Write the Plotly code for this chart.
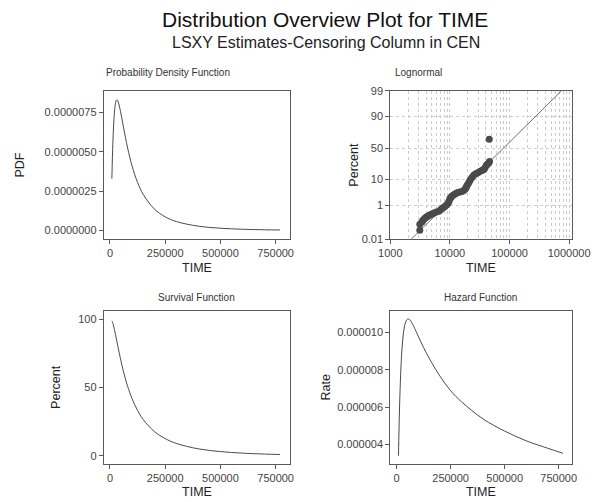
import plotly.graph_objects as go
from statistics import NormalDist

# ---------------- data ----------------
t_curve = [8500, 10000, 12000, 15000, 20000, 25000, 30000, 35000, 40000, 50000, 60000, 70000,
           80000, 100000, 125000, 150000, 200000, 250000, 300000, 400000, 500000,
           600000, 700000, 770000]
pdf_vals = [3.3e-6, 4.13e-6, 5.16e-6, 6.27e-6, 7.48e-6, 8.09e-6, 8.30e-6, 8.25e-6, 8.04e-6,
            7.40e-6, 6.65e-6, 5.92e-6, 5.24e-6, 4.10e-6, 3.05e-6, 2.31e-6, 1.38e-6, 0.874e-6,
            0.579e-6, 0.281e-6, 0.152e-6, 0.088e-6, 0.054e-6, 0.040e-6]
surv_vals = [98.7, 98.4, 97.5, 95.8, 92.4, 88.6, 84.65, 80.6, 76.7, 69.15, 62.3, 56.2,
             50.8, 41.8, 33.2, 26.7, 18.0, 12.7, 9.2, 5.24, 3.22, 2.09, 1.42, 1.10]
haz_vals = [3.4e-6, 4.2e-6, 5.28e-6, 6.55e-6, 8.1e-6, 9.13e-6, 9.8e-6, 10.23e-6, 10.49e-6,
            10.7e-6, 10.68e-6, 10.52e-6, 10.3e-6, 9.8e-6, 9.18e-6, 8.63e-6, 7.67e-6, 6.88e-6,
            6.29e-6, 5.37e-6, 4.72e-6, 4.2e-6, 3.8e-6, 3.53e-6]

# probability plot points (TIME, percent)
pp_time = [3130, 3130, 3400, 3530, 3700, 3890, 4050, 4240, 4500, 4800, 5100, 5420, 5900,
           6520, 6900, 7360, 7800, 8320, 8850, 9400, 9700, 10000, 10300, 10630, 11300,
           12020, 12800, 13590, 14700, 15930, 17000, 17990, 18500, 18910, 19600, 20360,
           21200, 22190, 23600, 25070, 27000, 29390, 31700, 34040, 35800, 37520, 39000,
           40900, 42600, 44560, 46250, 45710]
pp_pct = [0.04, 0.094, 0.13, 0.16, 0.19, 0.224, 0.25, 0.275, 0.31, 0.337, 0.37, 0.41, 0.45,
          0.50, 0.58, 0.68, 0.77, 0.88, 1.05, 1.25, 1.55, 1.93, 2.15, 2.41, 2.7,
          3.0, 3.25, 3.48, 3.65, 3.8, 4.2, 4.64, 5.2, 5.77, 6.6, 7.48,
          8.7, 10.0, 11.7, 13.4, 14.7, 15.8, 16.9, 17.9, 18.6, 19.3, 21.5,
          24.0, 25.5, 27.0, 29.2, 64.1]
fit_time = [2240, 740000]
fit_pct = [0.01, 99]

prob_ticks = [0.01, 1, 10, 50, 90, 99]
lin_xticks = [0, 250000, 500000, 750000]

nd = NormalDist()
def z(p):
    return nd.inv_cdf(p / 100.0)

FONT = "Liberation Sans"
LINE = "#4a4a4a"
AX = "#5a5a5a"
TICKC = "#444444"
GRID = "#cccccc"

fig = go.Figure()
fig.add_trace(go.Scatter(x=t_curve, y=pdf_vals, mode="lines", line=dict(color=LINE, width=1, shape="spline"),
                         xaxis="x", yaxis="y", showlegend=False))
fig.add_trace(go.Scatter(x=fit_time, y=[z(p) for p in fit_pct], mode="lines",
                         line=dict(color=LINE, width=0.8), xaxis="x2", yaxis="y2", showlegend=False))
fig.add_trace(go.Scatter(x=pp_time, y=[z(p) for p in pp_pct], mode="markers",
                         marker=dict(color="#4a4a4a", size=7), xaxis="x2", yaxis="y2", showlegend=False))
fig.add_trace(go.Scatter(x=t_curve, y=surv_vals, mode="lines", line=dict(color=LINE, width=1, shape="spline"),
                         xaxis="x3", yaxis="y3", showlegend=False))
fig.add_trace(go.Scatter(x=t_curve, y=haz_vals, mode="lines", line=dict(color=LINE, width=1, shape="spline"),
                         xaxis="x4", yaxis="y4", showlegend=False))

tickfont = dict(family=FONT, size=11, color=TICKC)
titlefont = dict(family=FONT, size=12.5, color="#222222")

def axis_common():
    return dict(showline=True, linecolor=AX, linewidth=1, mirror=True, ticks="outside",
                ticklen=4, tickcolor=AX, tickfont=tickfont, showgrid=False, zeroline=False)

left_dom = [0.1572, 0.4764]
right_dom = [0.6477, 0.9582]
top_dom = [0.5239, 0.8267]
bot_dom = [0.0657, 0.3779]

minor_vals = []
for dec in [1000, 10000, 100000]:
    for m in range(2, 10):
        minor_vals.append(dec * m)

fig.update_layout(
    width=615, height=502, margin=dict(l=0, r=0, t=0, b=0),
    paper_bgcolor="white", plot_bgcolor="white",
    xaxis=dict(**axis_common(), domain=left_dom, anchor="y", range=[-28000, 816000],
               tickvals=lin_xticks, tickformat="d",
               title=dict(text="TIME", font=titlefont, standoff=4)),
    yaxis=dict(**axis_common(), domain=top_dom, anchor="x", range=[-0.55e-6, 8.87e-6],
               tickvals=[0, 2.5e-6, 5e-6, 7.5e-6], tickformat=".7f",
               title=dict(text="PDF", font=titlefont, standoff=17)),
    xaxis2=dict(**axis_common(), domain=right_dom, anchor="y2", type="log", range=[3, 6.041],
                tickvals=[1000, 10000, 100000, 1000000], ticktext=["1000", "10000", "100000", "1000000"],
                minor=dict(tickvals=minor_vals, showgrid=True, gridcolor=GRID, griddash="3px,3px",
                           gridwidth=1, ticks=""),
                title=dict(text="TIME", font=titlefont, standoff=4)),
    yaxis2=dict(**axis_common(), domain=top_dom, anchor="x2", range=[z(0.01), z(99)],
                tickvals=[z(p) for p in prob_ticks], ticktext=[f"{p:g}" for p in prob_ticks],
                title=dict(text="Percent", font=titlefont, standoff=0)),
    xaxis3=dict(**axis_common(), domain=left_dom, anchor="y3", range=[-28000, 816000],
                tickvals=lin_xticks, tickformat="d",
                title=dict(text="TIME", font=titlefont, standoff=4)),
    yaxis3=dict(**axis_common(), domain=bot_dom, anchor="x3", range=[-5.7, 106],
                tickvals=[0, 50, 100],
                title=dict(text="Percent", font=titlefont, standoff=14)),
    xaxis4=dict(**axis_common(), domain=right_dom, anchor="y4", range=[-29400, 809800],
                tickvals=lin_xticks, tickformat="d",
                title=dict(text="TIME", font=titlefont, standoff=4)),
    yaxis4=dict(**axis_common(), domain=bot_dom, anchor="x4", range=[2.97e-6, 1.115e-5],
                tickvals=[4e-6, 6e-6, 8e-6, 1e-5], tickformat=".6f",
                title=dict(text="Rate", font=titlefont, standoff=3)),
)
# major grid for probability plot
fig.update_layout(xaxis2_showgrid=True, xaxis2_gridcolor=GRID, xaxis2_griddash="3px,3px",
                  yaxis2_showgrid=True, yaxis2_gridcolor=GRID, yaxis2_griddash="3px,3px")

annots = [
    dict(text="Distribution Overview Plot for TIME", x=330 / 615, y=1 - 14 / 502, size=21, color="#111111"),
    dict(text="LSXY Estimates-Censoring Column in CEN", x=331 / 615, y=1 - 37 / 502, size=16, color="#222222"),
    dict(text="Probability Density Function", x=164.5 / 615, y=1 - 68 / 502, size=10, color="#333333"),
    dict(text="Lognormal", x=428 / 615, y=1 - 68 / 502, size=10, color="#333333"),
    dict(text="Survival Function", x=194.5 / 615, y=1 - 299 / 502, size=10, color="#333333"),
    dict(text="Hazard Function", x=493 / 615, y=1 - 299 / 502, size=10, color="#333333"),
]
for a in annots:
    fig.add_annotation(text=a["text"], x=a["x"], y=a["y"], xref="paper", yref="paper",
                       showarrow=False, xanchor="center", yanchor="middle",
                       font=dict(family=FONT, size=a["size"], color=a["color"]))

fig.write_html("out.html")
